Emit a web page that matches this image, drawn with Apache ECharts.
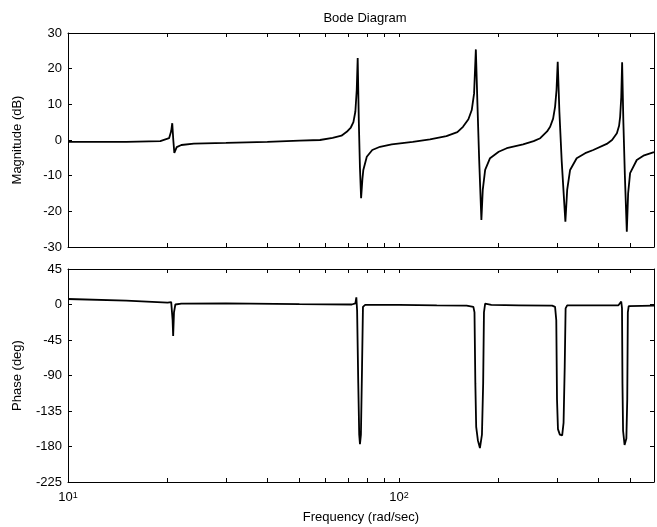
<!DOCTYPE html>
<html>
<head>
<meta charset="utf-8">
<title>Bode Diagram</title>
<script src="https://cdn.jsdelivr.net/npm/echarts@6/dist/echarts.min.js"></script>
<style>
  html, body { margin: 0; padding: 0; background: #fff; }
  #chart { width: 657px; height: 527px; }
</style>
</head>
<body>
<div id="chart"></div>
<script>
// magnitude curve (rad/sec -> dB)
var magFreq = [10, 15, 19, 20.2, 20.5, 20.65, 20.8, 20.95, 21.3, 22, 24, 30, 40, 50, 57.7,
  63, 67, 69.5, 71.5, 72.8, 73.8, 74.5, 75, 75.6, 76.2, 76.8, 77.5, 78, 79.9, 83, 87.6, 95,
  110, 124, 139, 150, 156, 162, 165.8, 168.5, 170.6, 172.5, 174.5, 177.3, 179, 182, 188.3,
  200, 211.5, 237, 255, 267, 280, 286, 292, 296, 299, 301.5, 305, 310, 318, 322, 328.6,
  344, 365, 386, 424, 440, 455, 462, 465.4, 469, 471.9, 476, 481, 487.5, 492, 498.8,
  522.5, 550, 589];
var magDb = [-0.5, -0.5, -0.3, 0.5, 2.5, 4.7, 0, -3.6, -2.0, -1.4, -1.0, -0.8, -0.5, -0.2, 0,
  0.6, 1.2, 2.3, 3.5, 5, 8, 14, 23, 5, -8, -16.3, -11, -8.4, -4.7, -2.8, -1.9, -1.2,
  -0.5, 0.2, 1.1, 2.2, 3.7, 5.8, 8.4, 13, 25.4, 10, -5, -22.4, -14, -8.4, -5.1,
  -3.3, -2.3, -1.2, -0.3, 0.5, 2.4, 3.7, 6, 9.3, 14, 21.9, 8, -6, -22.9, -14, -8.4,
  -5.1, -3.7, -2.8, -1.1, 0, 1.9, 4, 6.5, 12, 21.8, 5, -10, -25.7, -15, -9.3,
  -5.6, -4.3, -3.4];

// phase curve (rad/sec -> deg)
var phaseFreq = [10, 15, 20, 20.5, 20.6, 20.7, 20.78, 20.9, 21.1, 22, 30, 50, 72,
  73.8, 74.3, 74.7, 75.3, 75.8, 76.2, 76.7, 77.3, 77.8, 79, 100, 130, 160,
  167.7, 169, 170, 171, 173, 175.5, 178, 179.5, 180.5, 182, 190, 230,
  290, 296, 298.5, 300, 302, 306, 311, 314, 316.5, 318.5, 322, 400,
  460, 466, 469, 471.5, 473, 475, 480, 483, 486, 489, 491, 494, 500, 589];
var phaseDeg = [7, 5, 2.5, 3, 5, -20, -40, -10, 0, 1, 1.5, 0.5, 0,
  1.5, 9, -8, -100, -165, -177, -165, -80, -3, -0.5, -0.5, -1, -1.3,
  -3, -10, -100, -155, -172, -182, -165, -100, -10, 1, -0.5, -1,
  -1.5, -3, -20, -120, -158, -165, -166, -150, -80, -5, -1, -1,
  -1, 1.5, 3.8, -5, -100, -160, -178, -180, -170, -120, -10, -2, -1.6, -1.3];

// axis ticks
var freqTicks = [10, 20, 30, 40, 50, 60, 70, 80, 90, 100, 200, 300, 400, 500];
var freqLabels = [10, 100];
var magRange = [-30, 30, 10];
var phaseRange = [-225, 45, 45];

var FONT = "'Liberation Sans', Arial, Helvetica, sans-serif";

function pairs(xs, ys) {
  return xs.map(function (x, i) { return [x, ys[i]]; });
}

function freqAxis(grid, pos, withLabels) {
  var ax = {
    type: 'log',
    gridIndex: grid,
    position: pos,
    min: 10,
    max: 589,
    axisLine: { onZero: false, lineStyle: { color: '#000', width: 1 } },
    axisTick: { inside: true, length: 4, customValues: freqTicks, lineStyle: { color: '#000' } },
    axisLabel: { show: false },
    splitLine: { show: false }
  };
  if (withLabels) {
    ax.axisLabel = {
      show: true,
      customValues: freqLabels,
      margin: 9,
      formatter: function (v) {
        return '{b|10}{s|' + Math.round(Math.log(v) / Math.LN10) + '}';
      },
      rich: {
        b: { fontFamily: FONT, fontSize: 13, color: '#000', verticalAlign: 'bottom' },
        s: { fontFamily: FONT, fontSize: 9, color: '#000', verticalAlign: 'top' }
      }
    };
    ax.name = 'Frequency (rad/sec)';
    ax.nameLocation = 'middle';
    ax.nameGap = 29;
    ax.nameTextStyle = { fontFamily: FONT, fontSize: 13, color: '#000' };
  }
  return ax;
}

function valueAxis(grid, pos, range, name) {
  var ax = {
    type: 'value',
    gridIndex: grid,
    position: pos,
    min: range[0],
    max: range[1],
    interval: range[2],
    axisLine: { onZero: false, lineStyle: { color: '#000', width: 1 } },
    axisTick: { inside: true, length: 4, lineStyle: { color: '#000' } },
    axisLabel: { show: pos === 'left', color: '#000', fontFamily: FONT, fontSize: 13, margin: 6 },
    splitLine: { show: false }
  };
  if (name) {
    ax.name = name;
    ax.nameLocation = 'middle';
    ax.nameGap = 44;
    ax.nameTextStyle = { fontFamily: FONT, fontSize: 13, color: '#000' };
  }
  return ax;
}

var chart = echarts.init(document.getElementById('chart'));
chart.setOption({
  animation: false,
  backgroundColor: '#fff',
  title: {
    text: 'Bode Diagram',
    left: 360,
    top: 7,
    textAlign: 'center',
    textStyle: { fontFamily: FONT, fontSize: 13, fontWeight: 'normal', color: '#000' }
  },
  grid: [
    { left: 68, top: 33, right: 3, height: 214 },
    { left: 68, top: 269, right: 3, height: 213 }
  ],
  xAxis: [
    freqAxis(0, 'bottom', false),
    freqAxis(0, 'top', false),
    freqAxis(1, 'bottom', true),
    freqAxis(1, 'top', false)
  ],
  yAxis: [
    valueAxis(0, 'left', magRange, 'Magnitude (dB)'),
    valueAxis(0, 'right', magRange),
    valueAxis(1, 'left', phaseRange, 'Phase (deg)'),
    valueAxis(1, 'right', phaseRange)
  ],
  series: [
    {
      type: 'line',
      xAxisIndex: 0,
      yAxisIndex: 0,
      data: pairs(magFreq, magDb),
      showSymbol: false,
      lineStyle: { color: '#000', width: 1.8 }
    },
    {
      type: 'line',
      xAxisIndex: 2,
      yAxisIndex: 2,
      data: pairs(phaseFreq, phaseDeg),
      showSymbol: false,
      lineStyle: { color: '#000', width: 1.8 }
    }
  ]
});
</script>
</body>
</html>
